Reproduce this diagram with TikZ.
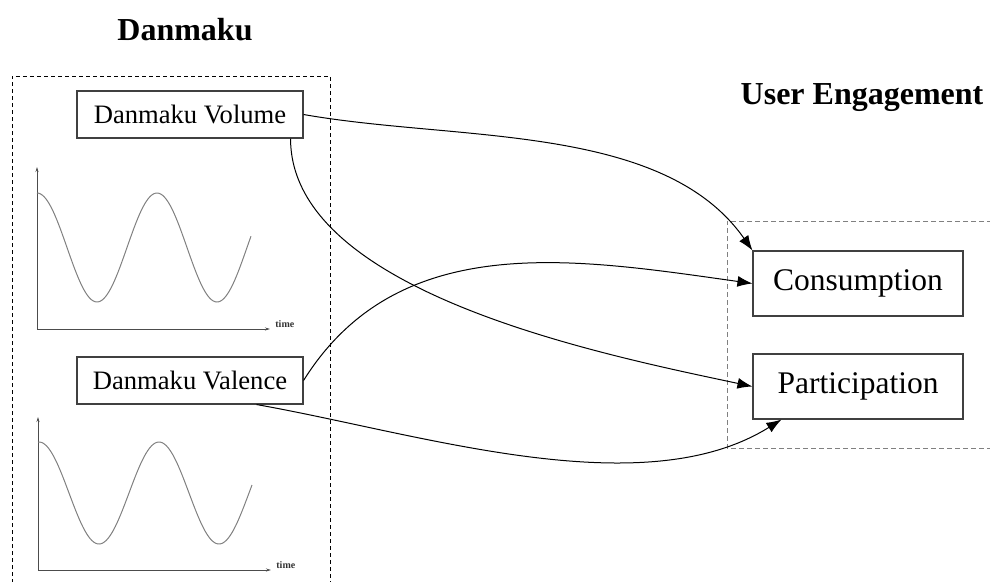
\documentclass[tikz,border=0pt]{standalone}
\usepackage{fontspec}
\setmainfont{Liberation Serif}
\usetikzlibrary{arrows.meta}

\tikzset{
	srcbox/.style={draw=black!75, line width=1.1pt, fill=white, inner sep=0pt,
		minimum width=226pt, minimum height=47pt, font=\fontsize{26.6}{30}\selectfont},
	dstbox/.style={draw=black!75, line width=1.1pt, inner sep=0pt,
		minimum width=210pt, minimum height=65pt, font=\fontsize{31.5}{36}\selectfont},
	title/.style={font=\bfseries\fontsize{32}{36}\selectfont},
	link/.style={line width=1pt, -{Latex[length=15pt, width=11pt]}},
}

\begin{document}
\begin{tikzpicture}[x=1pt, y=-1pt]
		\useasboundingbox (0, 0) rectangle (990, 581);

		% groups
		\draw[dash pattern=on 4pt off 3pt, line width=0.9pt] (12, 590) -- (12, 76) -- (330, 76) -- (330, 590);
		\draw[dash pattern=on 5pt off 3pt, line width=0.9pt, gray] (1000, 221) -- (727, 221) -- (727, 448) -- (1000, 448);
		\node[title] (t1) at (185, 30) {Danmaku};
		\node[title] (t2) at (862, 98) {User Engagement};

		% time series
		\foreach \gx/\gt/\gb/\gm/\ga/\gp in {37/167/329/247.5/54.5/37, 38/417/570/493/51/39} {
			\draw[black!70, line width=0.8pt, -{Stealth[length=5pt, width=3pt]}] (\gx, \gb) -- (\gx, \gt);
			\draw[black!70, line width=0.8pt, -{Stealth[length=5pt, width=3pt]}] (\gx, \gb) -- (\gx+233, \gb)
				node[anchor=base west, inner sep=0pt, xshift=5pt, yshift=2pt, black!80, font=\bfseries\fontsize{10}{12}\selectfont]{time};
			\draw[gray, line width=1pt] plot[domain=\gx:\gx+214, samples=120] (\x, {\gm-\ga*cos((\x-\gp)*3)});
		}

		\node[srcbox] (vol) at (190, 114.5) {Danmaku Volume};
		\node[srcbox] (val) at (190, 380.5) {Danmaku Valence};
		\node[dstbox] (cons) at (858, 283.5) {Consumption};
		\node[dstbox] (part) at (858, 386.5) {Participation};

		\draw[link] (vol.east) to[out=-10, in=125, looseness=0.85] (cons.north west);
		\draw[link] ([xshift=-13pt]vol.south east) to[out=-90, in=168, looseness=0.75] (part.west);
		\draw[link] (val.east) to[out=58, in=172] (cons.west);
		\draw[link] ([xshift=-47pt]val.south east) to[out=-10, in=-148, looseness=0.8] ([xshift=29pt]part.south west);
	\end{tikzpicture}
\end{document}
